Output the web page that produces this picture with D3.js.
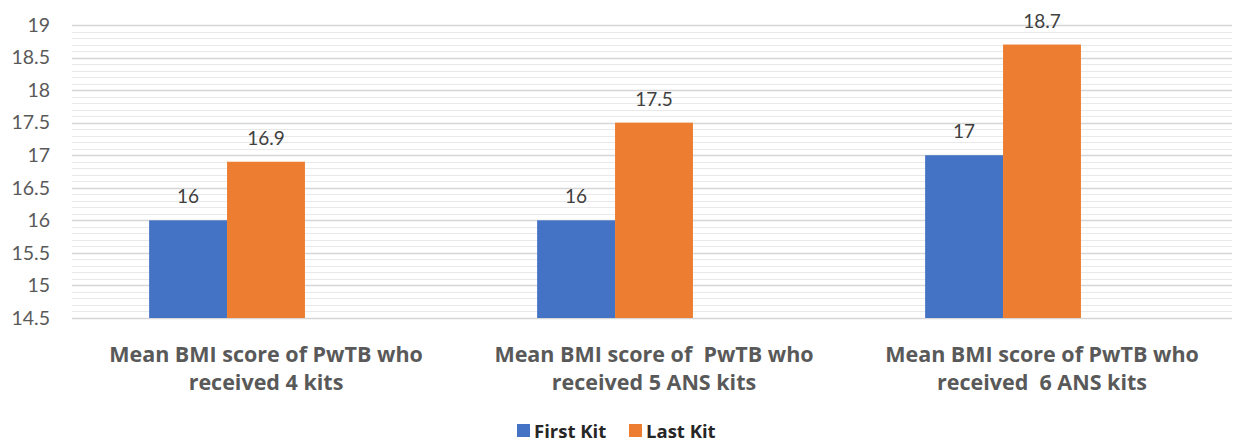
<!DOCTYPE html>
<html>
<head>
<meta charset="utf-8">
<script src="https://cdn.jsdelivr.net/npm/d3@7"></script>
<style>
  html, body { margin: 0; padding: 0; background: #fff; }
  svg { display: block; font-family: Lato, "Open Sans", sans-serif; }
  .bold { font-family: "Open Sans", Lato, sans-serif; font-weight: bold; }
</style>
</head>
<body>
<svg id="chart" width="1235" height="443"></svg>
<script>
// Mean BMI of people with TB, first vs last nutrition kit
const categories = [
  ["Mean BMI score of PwTB who", "received 4 kits"],
  ["Mean BMI score of  PwTB who", "received 5 ANS kits"],
  ["Mean BMI score of PwTB who", "received  6 ANS kits"]
];
const seriesNames = ["First Kit", "Last Kit"];
const firstKit = [16, 16, 17];
const lastKit = [16.9, 17.5, 18.7];
const seriesColors = ["#4472C4", "#ED7D31"];
const yTicks = [14.5, 15, 15.5, 16, 16.5, 17, 17.5, 18, 18.5, 19];

const svg = d3.select("#chart");
const plot = { left: 72, right: 1236, top: 25, bottom: 318 };

const x = d3.scaleBand().domain(d3.range(categories.length)).range([plot.left, plot.right]);
// each cluster keeps a third, unused slot after the two series
const slots = [...seriesNames, "unused"];
const xs = d3.scaleBand().domain(slots).range([0, x.bandwidth()]).paddingInner(0).paddingOuter(0.99);
const y = d3.scaleLinear().domain([14.5, 19]).range([plot.bottom, plot.top]);

// minor gridlines every 0.1
const minor = d3.range(145, 191).filter(v => v % 5 !== 0).map(v => v / 10);
svg.append("g").selectAll("line").data(minor).join("line")
  .attr("x1", plot.left).attr("x2", plot.right - 4)
  .attr("y1", d => Math.round(y(d)) + 0.5).attr("y2", d => Math.round(y(d)) + 0.5)
  .attr("stroke", "#e9e9e9").attr("stroke-width", 1.2);

// major gridlines
svg.append("g").selectAll("line").data(yTicks).join("line")
  .attr("x1", plot.left).attr("x2", plot.right - 4)
  .attr("y1", d => Math.round(y(d)) + 0.5).attr("y2", d => Math.round(y(d)) + 0.5)
  .attr("stroke", "#d6d6d6").attr("stroke-width", 1.3);

// y tick labels
svg.append("g").selectAll("text").data(yTicks).join("text")
  .attr("x", 50).attr("y", d => y(d)).attr("dy", "0.35em")
  .attr("text-anchor", "end").attr("fill", "#595959").attr("font-size", 19.5)
  .text(d => d);

const rows = categories.map((c, i) => [
  { s: seriesNames[0], v: firstKit[i], i },
  { s: seriesNames[1], v: lastKit[i], i }
]).flat();

// bars
svg.append("g").selectAll("rect").data(rows).join("rect")
  .attr("x", d => x(d.i) + xs(d.s))
  .attr("width", xs.bandwidth())
  .attr("y", d => y(d.v))
  .attr("height", d => y(14.5) - y(d.v))
  .attr("fill", d => seriesColors[seriesNames.indexOf(d.s)]);

// value labels
svg.append("g").selectAll("text").data(rows).join("text")
  .attr("x", d => x(d.i) + xs(d.s) + xs.bandwidth() / 2)
  .attr("y", d => y(d.v) - 17)
  .attr("text-anchor", "middle").attr("fill", "#404040").attr("font-size", 19)
  .text(d => d.v);

// category labels
const cat = svg.append("g").selectAll("text").data(categories).join("text")
  .attr("class", "bold").attr("text-anchor", "middle").attr("fill", "#595959")
  .attr("font-size", 21.5).style("white-space", "pre");
cat.each(function(lines, i) {
  d3.select(this).selectAll("tspan").data(lines).join("tspan")
    .attr("x", x(i) + x.bandwidth() / 2)
    .attr("y", (d, k) => 362 + k * 28)
    .text(d => d);
});

// legend
const legend = svg.append("g");
const legendItems = [{ n: seriesNames[0], c: seriesColors[0], x: 517 }, { n: seriesNames[1], c: seriesColors[1], x: 629 }];
legendItems.forEach(it => {
  legend.append("rect").attr("x", it.x).attr("y", 424).attr("width", 13).attr("height", 13).attr("fill", it.c);
  legend.append("text").attr("class", "bold").attr("x", it.x + 17).attr("y", 438)
    .attr("font-size", 18.5).attr("fill", "#262626").text(it.n);
});
</script>
</body>
</html>
